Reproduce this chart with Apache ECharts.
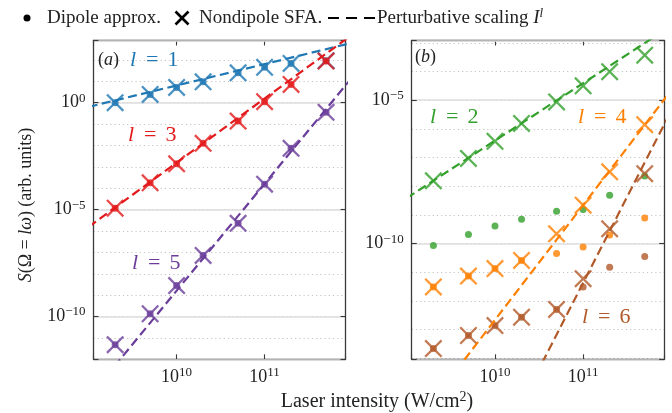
<!DOCTYPE html>
<html>
<head>
<meta charset="utf-8">
<script src="https://cdn.jsdelivr.net/npm/echarts@6/dist/echarts.min.js"></script>
<style>
  html, body { margin: 0; padding: 0; background: #fff; }
  #chart { width: 672px; height: 413px; }
</style>
</head>
<body>
<div id="chart"></div>
<script>
// laser intensity (W/cm^2) of every computed point
const intensity = [2e9, 5e9, 1e10, 2e10, 5e10, 1e11, 2e11, 5e11];
// the perturbative lines are drawn between these two intensities
const lineIntensity = [1e9, 1e12];

// panel (a): l = 1, 3, 5
const dipoleL1 = [1.0, 2.45, 5.2, 9.5, 25, 45, 69, 93];
const nondipoleL1 = [1.0, 2.45, 5.2, 9.5, 25, 45, 69, 93];
const scalingL1 = [0.64, 640];

const dipoleL3 = [1.17e-5, 1.8e-4, 1.38e-3, 1.26e-2, 0.138, 1.12, 7.2, 89];
const nondipoleL3 = [1.17e-5, 1.8e-4, 1.38e-3, 1.26e-2, 0.138, 1.12, 7.2, 89];
const scalingL3 = [1.57e-6, 1.57e3];

const dipoleL5 = [4.8e-12, 1.35e-10, 2.8e-9, 7.2e-8, 2.3e-6, 1.55e-4, 7.4e-3, 0.355];
const nondipoleL5 = [4.8e-12, 1.35e-10, 2.8e-9, 7.2e-8, 2.3e-6, 1.55e-4, 7.4e-3, 0.355];
const scalingL5 = [1.62e-14, 16.2];

// panel (b): l = 2, 4, 6
const dipoleL2 = [8.7e-11, 2.1e-10, 4.1e-10, 7.1e-10, 1.35e-9, 1.55e-9, 4.9e-9, 2.3e-8];
const nondipoleL2 = [1.55e-8, 9.3e-8, 3.7e-7, 1.55e-6, 8.7e-6, 3.16e-5, 9.8e-5, 3.7e-4];
const scalingL2 = [3.9e-9, 3.9e-3];

const dipoleL4 = [3.1e-12, 7.4e-12, 1.35e-11, 2.6e-11, 4.5e-11, 7.6e-11, 2.0e-10, 7.8e-10];
const nondipoleL4 = [3.1e-12, 7.4e-12, 1.35e-11, 2.6e-11, 2.2e-10, 2.2e-9, 3.2e-8, 1.4e-6];
const scalingL4 = [2.2e-17, 2.2e-5];

const dipoleL6 = [2.2e-14, 6.3e-14, 1.4e-13, 2.75e-13, 5.1e-13, 3.1e-12, 1.5e-11, 3.6e-11];
const nondipoleL6 = [2.2e-14, 6.3e-14, 1.4e-13, 2.75e-13, 5.1e-13, 6.0e-12, 3.3e-10, 2.75e-8];
const scalingL6 = [4.3e-24, 4.3e-6];

// axis ranges and labelled ticks, as powers of ten
const xRange = [9.055, 11.92];
const yRangeA = [-12, 2.91];
const yRangeB = [-14.03, -2.92];
const xTickLabels = [10, 11];
const yTickLabelsA = [-10, -5, 0];
const yTickLabelsB = [-10, -5];

const FONT = '"Liberation Serif", "DejaVu Serif", serif';
const INK = '#222';
const FRAME = '#3a3a3a';
const CROSS = 'path://M0,0.9L0.9,0L5,4.1L9.1,0L10,0.9L5.9,5L10,9.1L9.1,10L5,5.9L0.9,10L0,9.1L4.1,5Z';
const colors = {1: '#1f78b4', 2: '#33a02c', 3: '#e31a1c', 4: '#ff7f00', 5: '#6a3d9a', 6: '#b15928'};

const pts = (xs, ys) => xs.map((x, i) => [Math.log10(x), Math.log10(ys[i])]);

function powLabel(ticks) {
  return function (v) {
    const e = Math.round(v);
    if (Math.abs(v - e) > 1e-6 || ticks.indexOf(e) < 0) return '';
    return '{b|10}{s|' + String(e).replace('-', '\u2212') + '}';
  };
}
const tickRich = {
  b: {fontFamily: FONT, fontSize: 18, color: INK},
  s: {fontFamily: FONT, fontSize: 13, color: INK, padding: [0, 0, 9, 0]}
};

const frameLine = {show: true, onZero: false, lineStyle: {color: FRAME, width: 1.3}};
const frameTick = {show: true, inside: true, length: 5, lineStyle: {color: FRAME, width: 1.1}};

function xAxesFor(gi) {
  const base = {
    type: 'value', gridIndex: gi, min: xRange[0], max: xRange[1],
    minInterval: 1, maxInterval: 1,
    splitLine: {show: false}, axisLine: frameLine, axisTick: frameTick
  };
  return [
    Object.assign({}, base, {position: 'bottom',
      axisLabel: {formatter: powLabel(xTickLabels), margin: 7, rich: tickRich}}),
    Object.assign({}, base, {position: 'top', axisLabel: {show: false}})
  ];
}

function yAxesFor(gi, range, labels) {
  const base = {type: 'value', gridIndex: gi, min: range[0], max: range[1]};
  return [
    // every decade: dotted grid
    Object.assign({}, base, {position: 'left', z: 0, minInterval: 1, maxInterval: 1,
      axisLine: {show: false}, axisTick: {show: false}, axisLabel: {show: false},
      splitLine: {show: true, lineStyle: {color: '#c4c4c4', width: 1, type: [1.2, 3]}}}),
    // every fifth decade: solid grid, labels
    Object.assign({}, base, {position: 'left', z: 1, minInterval: 5, maxInterval: 5,
      axisLine: frameLine, axisTick: frameTick,
      axisLabel: {formatter: powLabel(labels), margin: 8, rich: tickRich},
      splitLine: {show: true, lineStyle: {color: '#dedede', width: 1.5, type: 'solid'}}}),
    Object.assign({}, base, {position: 'right', z: 1, minInterval: 5, maxInterval: 5,
      axisLine: frameLine, axisTick: frameTick, axisLabel: {show: false}, splitLine: {show: false}})
  ];
}

function harmonic(l, dip, nondip, scaling, xi, yi) {
  const c = colors[l];
  return [
    {type: 'scatter', xAxisIndex: xi, yAxisIndex: yi, symbol: 'circle', symbolSize: 7,
      itemStyle: {color: c}, data: pts(intensity, dip), z: 3},
    {type: 'scatter', xAxisIndex: xi, yAxisIndex: yi, symbol: CROSS, symbolSize: 18,
      itemStyle: {color: c}, data: pts(intensity, nondip), z: 3},
    {type: 'line', xAxisIndex: xi, yAxisIndex: yi, showSymbol: false, symbol: 'none', clip: true,
      lineStyle: {color: c, width: 2.2, type: [9, 4.5]}, data: pts(lineIntensity, scaling), z: 4}
  ];
}

const series = [].concat(
  harmonic(1, dipoleL1, nondipoleL1, scalingL1, 0, 1),
  harmonic(3, dipoleL3, nondipoleL3, scalingL3, 0, 1),
  harmonic(5, dipoleL5, nondipoleL5, scalingL5, 0, 1),
  harmonic(2, dipoleL2, nondipoleL2, scalingL2, 2, 4),
  harmonic(4, dipoleL4, nondipoleL4, scalingL4, 2, 4),
  harmonic(6, dipoleL6, nondipoleL6, scalingL6, 2, 4)
);

// texts drawn on top of the chart
function txt(x, y, text, rich, align, extra) {
  return Object.assign({
    type: 'text', x: x, y: y, z: 100,
    style: {text: text, rich: rich, fill: INK, fontFamily: FONT, fontSize: 18,
      align: align || 'left', verticalAlign: 'middle',
      textAlign: align || 'left', textVerticalAlign: 'middle'}
  }, extra || {});
}
function lRich(color) {
  return {
    i: {fontFamily: FONT, fontSize: 22, fontStyle: 'italic', fill: color},
    q: {fontFamily: FONT, fontSize: 22, fill: color, padding: [0, 9, 0, 10]},
    v: {fontFamily: FONT, fontSize: 22, fill: color}
  };
}
const lLabel = n => '{i|l}{q|=}{v|' + n + '}';
const panelRich = {
  r: {fontFamily: FONT, fontSize: 18, fill: INK},
  i: {fontFamily: FONT, fontSize: 18, fontStyle: 'italic', fill: INK}
};
function textRich(size) {
  return {
    r: {fontFamily: FONT, fontSize: size, fill: INK},
    i: {fontFamily: FONT, fontSize: size, fontStyle: 'italic', fill: INK},
    s: {fontFamily: FONT, fontSize: size - 6, fill: INK, padding: [0, 0, 9, 0]},
    si: {fontFamily: FONT, fontSize: size - 6, fontStyle: 'italic', fill: INK, padding: [0, 0, 9, 0]}
  };
}
const legendRich = textRich(19);

const graphic = [
  // legend
  {type: 'circle', shape: {cx: 27, cy: 18, r: 3.5}, style: {fill: '#000'}, z: 100},
  txt(47, 18, '{r|Dipole approx.}', legendRich),
  {type: 'line', shape: {x1: 175.5, y1: 11.5, x2: 188.5, y2: 24.5}, style: {stroke: '#000', lineWidth: 2.6}, z: 100},
  {type: 'line', shape: {x1: 175.5, y1: 24.5, x2: 188.5, y2: 11.5}, style: {stroke: '#000', lineWidth: 2.6}, z: 100},
  txt(199, 18, '{r|Nondipole SFA.}', legendRich),
  {type: 'line', shape: {x1: 328, y1: 18, x2: 375, y2: 18}, style: {stroke: '#000', lineWidth: 2.2, lineDash: [11, 7]}, z: 100},
  txt(377, 18, '{r|Perturbative scaling }{i|I}{si|l}', legendRich),
  // panel tags and harmonic orders
  txt(98, 60, '{r|(}{i|a}{r|)}', panelRich),
  txt(130, 60, lLabel(1), lRich(colors[1])),
  txt(128, 135, lLabel(3), lRich(colors[3])),
  txt(132, 263, lLabel(5), lRich(colors[5])),
  txt(415, 57, '{r|(}{i|b}{r|)}', panelRich),
  txt(430, 117, lLabel(2), lRich(colors[2])),
  txt(578, 117, lLabel(4), lRich(colors[4])),
  txt(582, 317, lLabel(6), lRich(colors[6])),
  // axis titles
  txt(377, 402, '{r|Laser intensity (W/cm}{s|2}{r|)}', textRich(20), 'center'),
  txt(26, 205, '{i|S}{r|(\u03a9 = }{i|l\u03c9}{r|) (arb. units)}', textRich(18), 'center', {rotation: Math.PI / 2})
];

const chart = echarts.init(document.getElementById('chart'));
chart.setOption({
  animation: false,
  backgroundColor: '#fff',
  grid: [
    {left: 93.5, top: 40.5, width: 252, height: 318.8, show: false},
    {left: 411.7, top: 40.5, width: 252.5, height: 318.8, show: false}
  ],
  xAxis: [].concat(xAxesFor(0), xAxesFor(1)),
  yAxis: [].concat(yAxesFor(0, yRangeA, yTickLabelsA), yAxesFor(1, yRangeB, yTickLabelsB)),
  series: series,
  graphic: graphic
});
</script>
</body>
</html>
